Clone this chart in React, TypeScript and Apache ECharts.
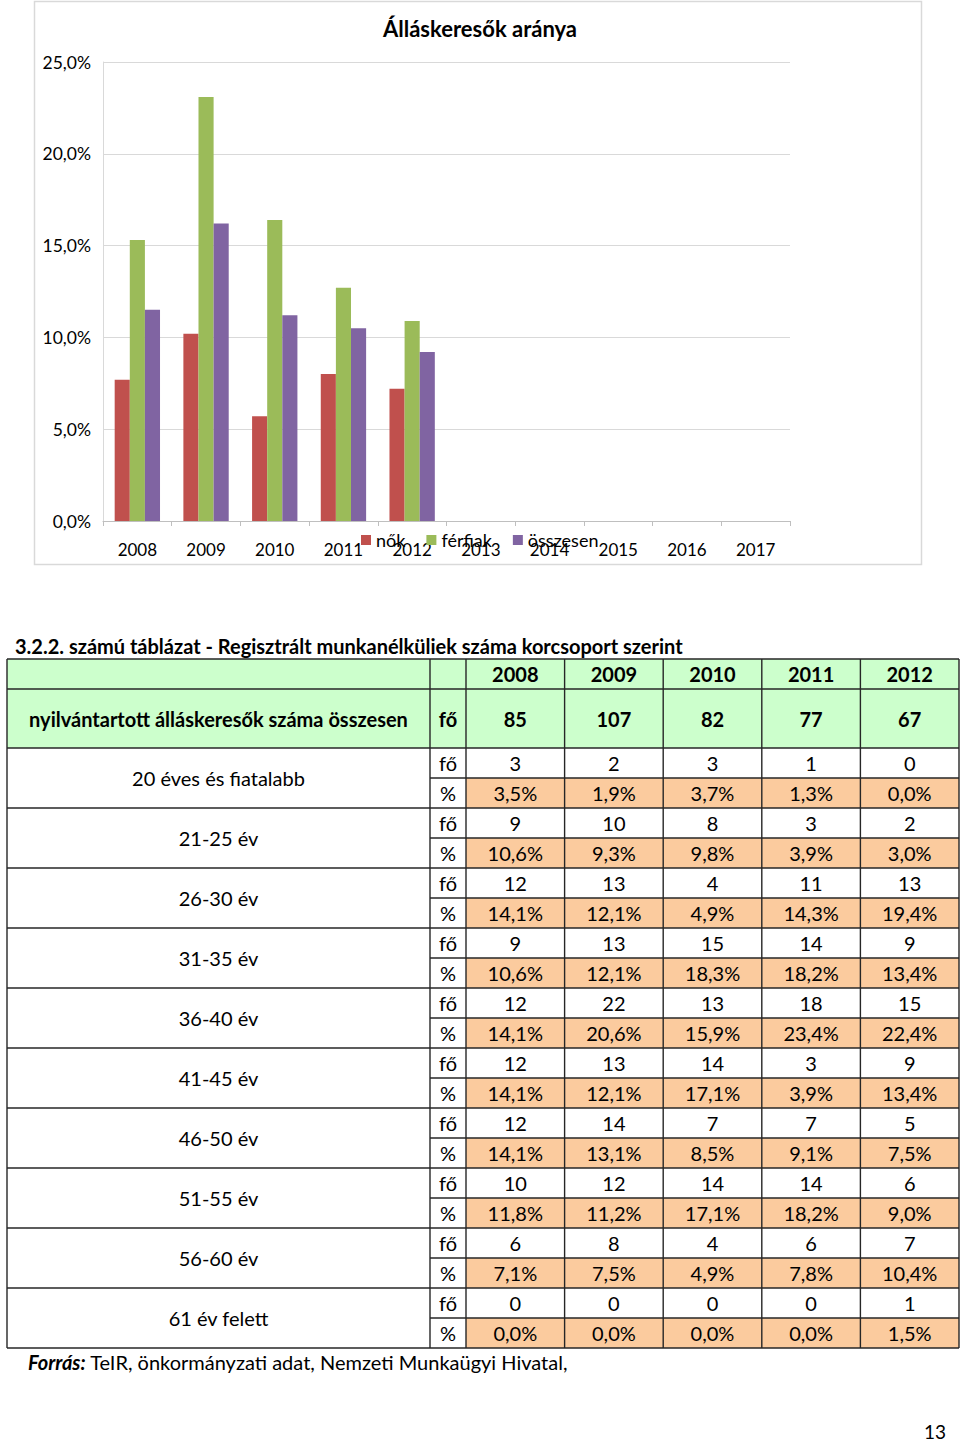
import React, { useEffect, useRef } from "react";
import * as echarts from "echarts";

const chartYears = ["2008", "2009", "2010", "2011", "2012", "2013", "2014", "2015", "2016", "2017"];
const nok = [7.7, 10.2, 5.7, 8.0, 7.2];
const ferfiak = [15.3, 23.1, 16.4, 12.7, 10.9];
const osszesen = [11.5, 16.2, 11.2, 10.5, 9.2];

const tableYears = ["2008", "2009", "2010", "2011", "2012"];
const totals = [85, 107, 82, 77, 67];
const ageGroups = [
  "20 éves és fiatalabb", "21-25 év", "26-30 év", "31-35 év", "36-40 év",
  "41-45 év", "46-50 év", "51-55 év", "56-60 év", "61 év felett",
];
const counts = [
  [3, 2, 3, 1, 0],
  [9, 10, 8, 3, 2],
  [12, 13, 4, 11, 13],
  [9, 13, 15, 14, 9],
  [12, 22, 13, 18, 15],
  [12, 13, 14, 3, 9],
  [12, 14, 7, 7, 5],
  [10, 12, 14, 14, 6],
  [6, 8, 4, 6, 7],
  [0, 0, 0, 0, 1],
];
const pcts = [
  [3.5, 1.9, 3.7, 1.3, 0.0],
  [10.6, 9.3, 9.8, 3.9, 3.0],
  [14.1, 12.1, 4.9, 14.3, 19.4],
  [10.6, 12.1, 18.3, 18.2, 13.4],
  [14.1, 20.6, 15.9, 23.4, 22.4],
  [14.1, 12.1, 17.1, 3.9, 13.4],
  [14.1, 13.1, 8.5, 9.1, 7.5],
  [11.8, 11.2, 17.1, 18.2, 9.0],
  [7.1, 7.5, 4.9, 7.8, 10.4],
  [0.0, 0.0, 0.0, 0.0, 1.5],
];

const FONT = "Lato, 'Open Sans', sans-serif";
const fmtPct = (v: number) => v.toFixed(1).replace(".", ",") + "%";

function buildTable(): any[] {
  const els: any[] = [];
  const X0 = 7, XL = 430, XU = 466, XR = 959;
  const colW = (XR - XU) / tableYears.length;
  const Y0 = 659, YH = 689, YT = 748, RH = 30;
  const YB = YT + ageGroups.length * 2 * RH;
  const lineCol = "#262626";
  const lw = 1.4;
  const text = (x: number, y: number, s: string, opts: any = {}) =>
    els.push({
      type: "text", silent: true, x, y,
      style: {
        text: s, fill: "#000", font: `${opts.bold ? "bold " : ""}${opts.size || 20}px ${FONT}`,
        align: opts.align || "center", verticalAlign: "middle",
      },
    });
  const line = (x1: number, y1: number, x2: number, y2: number) =>
    els.push({ type: "line", silent: true, z: 10, shape: { x1, y1, x2, y2 }, style: { stroke: lineCol, lineWidth: lw } });

  // fills
  els.push({ type: "rect", silent: true, shape: { x: X0, y: Y0, width: XR - X0, height: YT - Y0 }, style: { fill: "#CCFFCC" } });
  ageGroups.forEach((_, g) => {
    els.push({ type: "rect", silent: true, shape: { x: XU, y: YT + g * 2 * RH + RH, width: XR - XU, height: RH }, style: { fill: "#FBCB9E" } });
  });

  // caption
  text(15, 646, "3.2.2. számú táblázat - Regisztrált munkanélküliek száma korcsoport szerint", { bold: true, align: "left" });

  // header
  tableYears.forEach((y, i) => text(XU + colW * (i + 0.5), (Y0 + YH) / 2, y, { bold: true }));
  text((X0 + XL) / 2, (YH + YT) / 2, "nyilvántartott álláskeresők száma összesen", { bold: true });
  text((XL + XU) / 2, (YH + YT) / 2, "fő", { bold: true });
  totals.forEach((v, i) => text(XU + colW * (i + 0.5), (YH + YT) / 2, String(v), { bold: true }));

  // groups
  ageGroups.forEach((name, g) => {
    const gy = YT + g * 2 * RH;
    text((X0 + XL) / 2, gy + RH, name);
    text((XL + XU) / 2, gy + RH / 2, "fő");
    text((XL + XU) / 2, gy + RH * 1.5, "%");
    counts[g].forEach((v, i) => text(XU + colW * (i + 0.5), gy + RH / 2, String(v)));
    pcts[g].forEach((v, i) => text(XU + colW * (i + 0.5), gy + RH * 1.5, fmtPct(v)));
    line(XL, gy + RH, XR, gy + RH);
    line(X0, gy + 2 * RH, XR, gy + 2 * RH);
  });

  // grid lines
  line(X0, Y0, XR, Y0);
  line(X0, YH, XR, YH);
  line(X0, YT, XR, YT);
  line(X0, Y0, X0, YB);
  line(XL, Y0, XL, YB);
  for (let i = 0; i <= tableYears.length; i++) line(XU + colW * i, Y0, XU + colW * i, YB);

  // footer
  els.push({
    type: "text", silent: true, x: 28, y: 1362,
    style: {
      text: "{b|Forrás:} TeIR, önkormányzati adat, Nemzeti Munkaügyi Hivatal,",
      font: `20px ${FONT}`, fill: "#000", verticalAlign: "middle",
      rich: { b: { fontWeight: "bold", fontStyle: "italic", fontSize: 20, fontFamily: FONT, fill: "#000" } },
    },
  });
  text(935, 1431, "13", { align: "center", size: 19 });
  return els;
}

export default function App() {
  const ref = useRef<HTMLDivElement>(null);
  useEffect(() => {
    const chart = echarts.init(ref.current!, undefined, { renderer: "svg" });
    chart.setOption({
      animation: false,
      textStyle: { fontFamily: FONT },
      title: {
        text: "Álláskeresők aránya", left: 475, top: 12, textAlign: "center",
        textStyle: { fontSize: 22, fontWeight: "bold", color: "#000", fontFamily: FONT },
      },
      legend: {
        left: 361, top: 531, padding: 0, itemWidth: 10, itemHeight: 10, itemGap: 21,
        icon: "rect",
        textStyle: { fontSize: 18, color: "#000", fontFamily: FONT },
        data: ["nők", "férfiak", "összesen"],
      },
      grid: { left: 103, right: 170, top: 62, bottom: 921, containLabel: false },
      xAxis: {
        type: "category", data: chartYears, boundaryGap: true,
        axisLine: { lineStyle: { color: "#bfbfbf" } },
        axisTick: { show: true, length: 5, lineStyle: { color: "#bfbfbf" } },
        axisLabel: { color: "#000", fontSize: 17, margin: 20, fontFamily: FONT },
      },
      yAxis: {
        type: "value", min: 0, max: 25, interval: 5,
        axisLine: { show: true, lineStyle: { color: "#d9d9d9" } },
        axisTick: { show: false },
        splitLine: { lineStyle: { color: "#d9d9d9" } },
        axisLabel: { color: "#000", fontSize: 17.5, margin: 12, fontFamily: FONT, formatter: (v: number) => fmtPct(v) },
      },
      series: [
        { name: "nők", type: "bar", data: nok, itemStyle: { color: "#C0504D" }, barGap: "0%", barCategoryGap: "34%" },
        { name: "férfiak", type: "bar", data: ferfiak, itemStyle: { color: "#9BBB59" } },
        { name: "összesen", type: "bar", data: osszesen, itemStyle: { color: "#8064A2" } },
      ],
      graphic: [
        { type: "rect", silent: true, z: -1, shape: { x: 34.5, y: 1.5, width: 887, height: 563 }, style: { fill: "none", stroke: "#d9d9d9", lineWidth: 1.5 } },
        ...buildTable(),
      ],
    });
    return () => chart.dispose();
  }, []);
  return <div ref={ref} style={{ position: "absolute", left: 0, top: 0, width: 960, height: 1442, background: "#fff" }} />;
}
